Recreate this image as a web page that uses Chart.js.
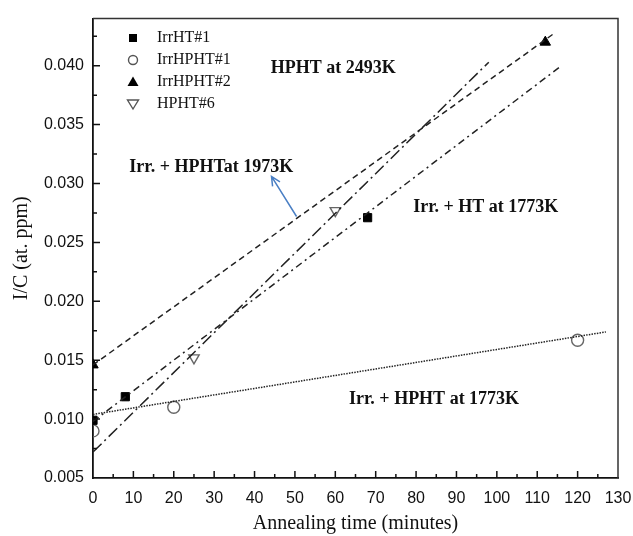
<!DOCTYPE html>
<html>
<head>
<meta charset="utf-8">
<script src="https://cdn.jsdelivr.net/npm/chart.js@4.4.0/dist/chart.umd.min.js"></script>
<style>
  html, body { margin: 0; padding: 0; background: #fff; }
  #wrap { width: 633px; height: 536px; }
</style>
</head>
<body>
<div id="wrap"><canvas id="annealChart"></canvas></div>
<script>
// measured points
const irrHT1X = [0, 8, 68];
const irrHT1Y = [0.0099, 0.0119, 0.0271];
const irrHPHT1X = [0, 20, 120];
const irrHPHT1Y = [0.0090, 0.0110, 0.0167];
const irrHPHT2X = [0, 112];
const irrHPHT2Y = [0.0146, 0.0420];
const hpht6X = [25, 60];
const hpht6Y = [0.0152, 0.0277];

// fitted lines (start / end)
const fit2493X = [0, 114];
const fit2493Y = [0.0146, 0.0427];
const fitHT1773X = [0, 116];
const fitHT1773Y = [0.0098, 0.0400];
const fit1973X = [0, 98];
const fit1973Y = [0.0072, 0.0403];
const fitHPHT1773X = [0, 127];
const fitHPHT1773Y = [0.0104, 0.0174];

const legendLabels = ["IrrHT#1", "IrrHPHT#1", "IrrHPHT#2", "HPHT#6"];

const notes = [
  { text: "HPHT at 2493K", x: 44, y: 0.0398 },
  { text: "Irr. + HPHTat 1973K", x: 9, y: 0.0314 },
  { text: "Irr. + HT at 1773K", x: 79.3, y: 0.0280 },
  { text: "Irr. + HPHT at 1773K", x: 63.4, y: 0.0117 }
];
const arrowFrom = [50.4, 0.0272];
const arrowTo = [44.2, 0.0306];

const toPts = (xs, ys) => xs.map((x, i) => ({ x: x, y: ys[i] }));

function fitLine(xs, ys, dash) {
  return {
    type: "line",
    data: toPts(xs, ys),
    borderColor: "#222",
    borderWidth: 1.5,
    borderDash: dash,
    pointRadius: 0,
    fill: false,
    clip: 0
  };
}

function markers(xs, ys, style, filled, rot) {
  return {
    type: "scatter",
    data: toPts(xs, ys),
    pointStyle: style,
    pointRotation: rot || 0,
    pointRadius: style === "rect" ? 5.8 : 6,
    pointBackgroundColor: filled ? "#000" : "rgba(255,255,255,0)",
    pointBorderColor: filled ? "#000" : "#666",
    pointBorderWidth: filled ? 1 : 1.4,
    clip: { left: 0, top: false, right: false, bottom: false }
  };
}

const datasets = [
  fitLine(fit2493X, fit2493Y, [6, 4]),
  fitLine(fitHT1773X, fitHT1773Y, [7, 4, 2, 4]),
  fitLine(fit1973X, fit1973Y, [12, 4, 2, 4]),
  fitLine(fitHPHT1773X, fitHPHT1773Y, [1.5, 1.2]),
  markers(irrHT1X, irrHT1Y, "rect", true),
  markers(irrHPHT1X, irrHPHT1Y, "circle", false),
  markers(irrHPHT2X, irrHPHT2Y, "triangle", true),
  markers(hpht6X, hpht6Y, "triangle", false, 180)
];

const extras = {
  id: "extras",
  afterDatasetsDraw(chart) {
    const ctx = chart.ctx;
    const a = chart.chartArea;
    const xs = chart.scales.x;
    const ys = chart.scales.y;
    ctx.save();

    // frame on top and right
    ctx.strokeStyle = "#333";
    ctx.lineWidth = 1.5;
    ctx.beginPath();
    ctx.moveTo(a.left, a.top);
    ctx.lineTo(a.right, a.top);
    ctx.lineTo(a.right, a.bottom);
    ctx.stroke();

    // inner ticks
    ctx.strokeStyle = "#111";
    ctx.lineWidth = 1.5;
    ctx.beginPath();
    for (let v = 5; v < 130; v += 5) {
      const px = xs.getPixelForValue(v);
      const len = v % 10 === 0 ? 7 : 4;
      ctx.moveTo(px, a.bottom);
      ctx.lineTo(px, a.bottom - len);
    }
    for (let k = 1; k <= 15; k++) {
      const v = 0.005 + k * 0.0025;
      const py = ys.getPixelForValue(v);
      const len = k % 2 === 0 ? 7 : 4;
      ctx.moveTo(a.left, py);
      ctx.lineTo(a.left + len, py);
    }
    ctx.stroke();

    // annotations
    ctx.fillStyle = "#111";
    ctx.font = "bold 18px 'Liberation Serif', 'Times New Roman', serif";
    ctx.textBaseline = "middle";
    ctx.textAlign = "left";
    notes.forEach(n => {
      ctx.fillText(n.text, xs.getPixelForValue(n.x), ys.getPixelForValue(n.y));
    });

    // blue arrow
    const x1 = xs.getPixelForValue(arrowFrom[0]), y1 = ys.getPixelForValue(arrowFrom[1]);
    const x2 = xs.getPixelForValue(arrowTo[0]), y2 = ys.getPixelForValue(arrowTo[1]);
    const ang = Math.atan2(y2 - y1, x2 - x1);
    ctx.strokeStyle = "#4a7fc4";
    ctx.lineWidth = 1.5;
    ctx.beginPath();
    ctx.moveTo(x1, y1);
    ctx.lineTo(x2, y2);
    ctx.moveTo(x2 - 10 * Math.cos(ang - 0.45), y2 - 10 * Math.sin(ang - 0.45));
    ctx.lineTo(x2, y2);
    ctx.lineTo(x2 - 10 * Math.cos(ang + 0.45), y2 - 10 * Math.sin(ang + 0.45));
    ctx.stroke();

    // legend
    const rows = [38, 60, 82, 104];
    const mx = 133;
    ctx.font = "16px 'Liberation Serif', 'Times New Roman', serif";
    legendLabels.forEach((lab, i) => {
      const y = rows[i];
      ctx.lineWidth = 1.4;
      if (i === 0) {
        ctx.fillStyle = "#000";
        ctx.fillRect(mx - 4, y - 4, 8, 8);
      } else if (i === 1) {
        ctx.strokeStyle = "#555";
        ctx.beginPath();
        ctx.arc(mx, y, 4.5, 0, Math.PI * 2);
        ctx.stroke();
      } else if (i === 2) {
        ctx.fillStyle = "#000";
        ctx.beginPath();
        ctx.moveTo(mx, y - 5.5);
        ctx.lineTo(mx + 5.5, y + 4);
        ctx.lineTo(mx - 5.5, y + 4);
        ctx.closePath();
        ctx.fill();
      } else {
        ctx.strokeStyle = "#555";
        ctx.beginPath();
        ctx.moveTo(mx, y + 5);
        ctx.lineTo(mx + 5.5, y - 4);
        ctx.lineTo(mx - 5.5, y - 4);
        ctx.closePath();
        ctx.stroke();
      }
      ctx.fillStyle = "#111";
      ctx.fillText(lab, 157, y);
    });

    ctx.restore();
  }
};

new Chart(document.getElementById("annealChart"), {
  type: "scatter",
  data: { datasets: datasets },
  options: {
    responsive: true,
    maintainAspectRatio: false,
    animation: false,
    layout: { padding: { top: 12, right: 0, left: 0, bottom: 0 } },
    plugins: { legend: { display: false }, tooltip: { enabled: false } },
    scales: {
      x: {
        type: "linear",
        min: 0,
        max: 130,
        afterFit: s => { s.height = 58; s.paddingRight = 15; s.paddingLeft = 0; },
        grid: { drawOnChartArea: false, drawTicks: false },
        border: { display: true, color: "#111", width: 1.8 },
        ticks: {
          stepSize: 10,
          padding: 11,
          color: "#111",
          font: { family: "'Liberation Sans', Arial, sans-serif", size: 16 }
        },
        title: {
          display: true,
          text: "Annealing time (minutes)",
          color: "#111",
          padding: { top: 0, bottom: 0 },
          font: { family: "'Liberation Serif', 'Times New Roman', serif", size: 20 }
        }
      },
      y: {
        type: "linear",
        min: 0.005,
        max: 0.044,
        afterFit: s => { s.width = 93; },
        grid: { drawOnChartArea: false, drawTicks: false },
        border: { display: true, color: "#111", width: 1.8 },
        ticks: {
          stepSize: 0.005,
          includeBounds: false,
          padding: 9,
          color: "#111",
          font: { family: "'Liberation Sans', Arial, sans-serif", size: 16 },
          callback: v => v.toFixed(3)
        },
        title: {
          display: true,
          text: "I/C (at. ppm)",
          color: "#111",
          padding: { top: 10, bottom: 0 },
          font: { family: "'Liberation Serif', 'Times New Roman', serif", size: 20 }
        }
      }
    }
  },
  plugins: [extras]
});
</script>
</body>
</html>
